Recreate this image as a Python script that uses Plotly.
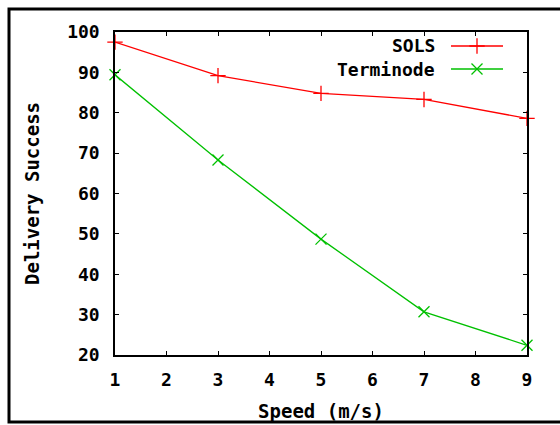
import plotly.graph_objects as go

speed = [1, 3, 5, 7, 9]
sols = [97.5, 89.2, 84.8, 83.3, 78.6]
terminode = [89.4, 68.3, 48.7, 30.7, 22.4]
x_ticks = [1, 2, 3, 4, 5, 6, 7, 8, 9]
y_ticks = [20, 30, 40, 50, 60, 70, 80, 90, 100]
series_names = ["SOLS", "Terminode"]
series_colors = ["#ff0000", "#00c000"]
series_symbols = ["cross-thin-open", "x-thin-open"]

W, H = 560, 425
L, R, T, B = 115, 33, 32, 70
pw, ph = W - L - R, H - T - B

def px(x):
    return (x - L) / pw

def py(y):
    return (H - B - y) / ph

FONT = "DejaVu Sans Mono"

fig = go.Figure()
for name, ys, col, sym in zip(series_names, [sols, terminode], series_colors, series_symbols):
    fig.add_trace(go.Scatter(
        x=speed, y=ys, mode="lines+markers", name=name,
        line=dict(color=col, width=1.3),
        marker=dict(symbol=sym, size=11, color=col, line=dict(color=col, width=1.3)),
        showlegend=False, cliponaxis=False,
    ))

# custom gnuplot-style legend (text then sample)
leg_y = [46, 69]
for name, col, sym, yy in zip(series_names, series_colors, series_symbols, leg_y):
    fig.add_trace(go.Scatter(
        x=[px(451), px(477), px(503)], y=[py(yy)] * 3, xaxis="x2", yaxis="y2",
        mode="lines", line=dict(color=col, width=1.3), showlegend=False, hoverinfo="skip",
    ))
    fig.add_trace(go.Scatter(
        x=[px(477)], y=[py(yy)], xaxis="x2", yaxis="y2", mode="markers",
        marker=dict(symbol=sym, size=11, color=col, line=dict(color=col, width=1.3)),
        showlegend=False, hoverinfo="skip",
    ))
    fig.add_annotation(x=px(437), y=py(yy), xref="paper", yref="paper", text=name,
                       showarrow=False, xanchor="right", yanchor="middle",
                       font=dict(family=FONT, size=18, color="black", weight="bold"))

axis_common = dict(
    showline=True, linecolor="black", linewidth=1.5, mirror="ticks",
    ticks="inside", ticklen=4, tickcolor="black", tickwidth=1,
    showgrid=False, zeroline=False, automargin=False,
    tickfont=dict(family=FONT, size=18, color="black", weight="bold"),
)

fig.update_layout(
    width=W, height=H,
    margin=dict(l=L, r=R, t=T, b=B),
    paper_bgcolor="white", plot_bgcolor="white",
    xaxis=dict(range=[1, 9], tickvals=x_ticks, ticklabelstandoff=8,
               title=dict(text="Speed (m/s)", standoff=15,
                          font=dict(family=FONT, size=19, color="black", weight="bold")),
               **axis_common),
    yaxis=dict(range=[20, 100], tickvals=y_ticks, ticklabelstandoff=10,
               title=dict(text="Delivery Success", standoff=22,
                          font=dict(family=FONT, size=19, color="black", weight="bold")),
               **axis_common),
    xaxis2=dict(overlaying="x", range=[0, 1], visible=False),
    yaxis2=dict(overlaying="y", range=[0, 1], visible=False),
    shapes=[dict(type="rect", xref="paper", yref="paper",
                 x0=px(9), x1=px(575), y0=py(9), y1=py(422),
                 line=dict(color="black", width=3), layer="below")],
)

fig.write_html("out.html")
